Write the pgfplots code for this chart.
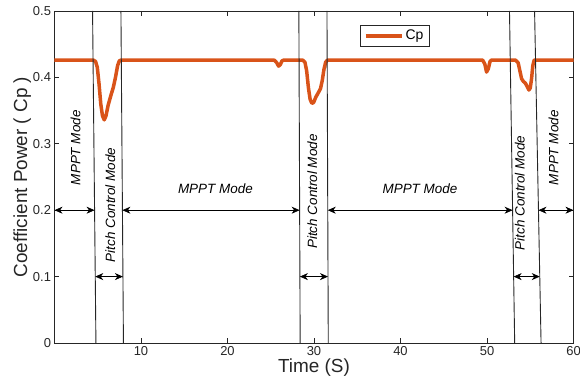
\documentclass[border=0pt]{standalone}
\usepackage{pgfplots}
\pgfplotsset{compat=1.18}
\usepackage{fontspec}
\setmainfont{Liberation Sans}
\usetikzlibrary{arrows.meta}

\definecolor{cpline}{RGB}{217,83,25}
\definecolor{axgray}{RGB}{38,38,38}

\tikzset{modearrow/.style={black, line width=0.7bp,
    {Stealth[length=8bp,width=7bp,inset=2.5bp]}-{Stealth[length=8bp,width=7bp,inset=2.5bp]}},
  modeline/.style={black!85, line width=0.9bp}}

\begin{document}
\begin{tikzpicture}
\useasboundingbox (-54.5bp,-48bp) rectangle (525.5bp,343bp);
\begin{axis}[
  scale only axis,
  width=519bp, height=332bp,
  xmin=0, xmax=60, ymin=0, ymax=0.5,
  xtick={10,20,...,60},
  ytick={0,0.1,...,0.5},
  yticklabels={0,0.1,0.2,0.3,0.4,0.5},
  tick pos=both,
  tick align=inside,
  major tick length=5bp,
  axis line style={axgray, line width=0.6bp},
  tick style={axgray, line width=0.6bp},
  /pgf/number format/assume math mode=true,
  tick label style={font=\fontsize{13}{15}\selectfont, text=axgray},
  label style={font=\fontsize{19}{22}\selectfont, text=axgray},
  xlabel={Time (S)},
  ylabel={Coefficient Power ( Cp )},
  xlabel style={yshift=4bp},
  ylabel style={yshift=-5bp},
  legend style={at={(axis cs:35.3,0.479)}, anchor=north west,
    draw=axgray, line width=0.6bp, font=\fontsize{14}{16}\selectfont,
    inner xsep=4bp, inner ysep=3bp},
  legend image code/.code={\draw[#1] (0bp,0bp) -- (30bp,0bp);
    \path (0bp,0bp) -- (36bp,0bp);},
]
% power coefficient over time
\addplot[cpline, line width=3.5bp, line join=round] coordinates {
(0,0.426) (4.5,0.426) (4.75,0.424) (4.95,0.415) (5.15,0.39) (5.35,0.36)
(5.55,0.342) (5.75,0.336) (5.95,0.342) (6.2,0.358) (6.5,0.372) (6.8,0.385)
(7.05,0.400) (7.3,0.418) (7.5,0.425) (7.7,0.426)
(25.4,0.426) (25.7,0.422) (25.9,0.417) (26.1,0.419) (26.3,0.425) (26.5,0.426)
(28.7,0.426) (28.95,0.423) (29.15,0.41) (29.35,0.385) (29.55,0.367)
(29.75,0.361) (29.95,0.362) (30.2,0.37) (30.5,0.377) (30.75,0.383)
(30.95,0.395) (31.15,0.412) (31.35,0.423) (31.55,0.426)
(49.5,0.426) (49.75,0.42) (49.95,0.408) (50.15,0.413) (50.35,0.424) (50.5,0.426)
(53.3,0.426) (53.6,0.422) (53.8,0.41) (54.0,0.398) (54.2,0.394) (54.45,0.391)
(54.65,0.386) (54.85,0.381) (55.0,0.384) (55.15,0.398) (55.3,0.418)
(55.45,0.426) (60,0.426)
};
\addlegendentry{Cp}

% mode boundaries
\addplot[modeline, forget plot] coordinates {(4.40,0.5) (4.79,0)};
\addplot[modeline, forget plot] coordinates {(7.68,0.5) (7.97,0)};
\addplot[modeline, forget plot] coordinates {(28.25,0.5) (28.40,0)};
\addplot[modeline, forget plot] coordinates {(31.50,0.5) (31.65,0)};
\addplot[modeline, forget plot] coordinates {(52.60,0.5) (53.20,0)};
\addplot[modeline, forget plot] coordinates {(55.50,0.5) (56.25,0)};

% MPPT spans
\addplot[modearrow, forget plot] coordinates {(0,0.2) (4.63,0.2)};
\addplot[modearrow, forget plot] coordinates {(7.85,0.2) (28.34,0.2)};
\addplot[modearrow, forget plot] coordinates {(31.59,0.2) (52.96,0.2)};
\addplot[modearrow, forget plot] coordinates {(55.95,0.2) (60,0.2)};
% pitch control spans
\addplot[modearrow, forget plot] coordinates {(4.71,0.1) (7.91,0.1)};
\addplot[modearrow, forget plot] coordinates {(28.37,0.1) (31.62,0.1)};
\addplot[modearrow, forget plot] coordinates {(53.08,0.1) (56.10,0.1)};

\begin{scope}[every node/.style={font=\itshape\fontsize{13.5}{15}\selectfont, text=black}]
\node at (axis cs:18.6,0.232) {MPPT Mode};
\node at (axis cs:42.25,0.232) {MPPT Mode};
\end{scope}
\begin{scope}[every node/.style={rotate=90, font=\itshape\fontsize{13.5}{15}\selectfont, text=black}]
\node at (axis cs:2.45,0.294) {MPPT Mode};
\node at (axis cs:6.45,0.208) {Pitch Control Mode};
\node at (axis cs:29.8,0.228) {Pitch Control Mode};
\node at (axis cs:53.8,0.226) {Pitch Control Mode};
\node at (axis cs:57.7,0.294) {MPPT Mode};
\end{scope}
\end{axis}
\end{tikzpicture}
\end{document}
